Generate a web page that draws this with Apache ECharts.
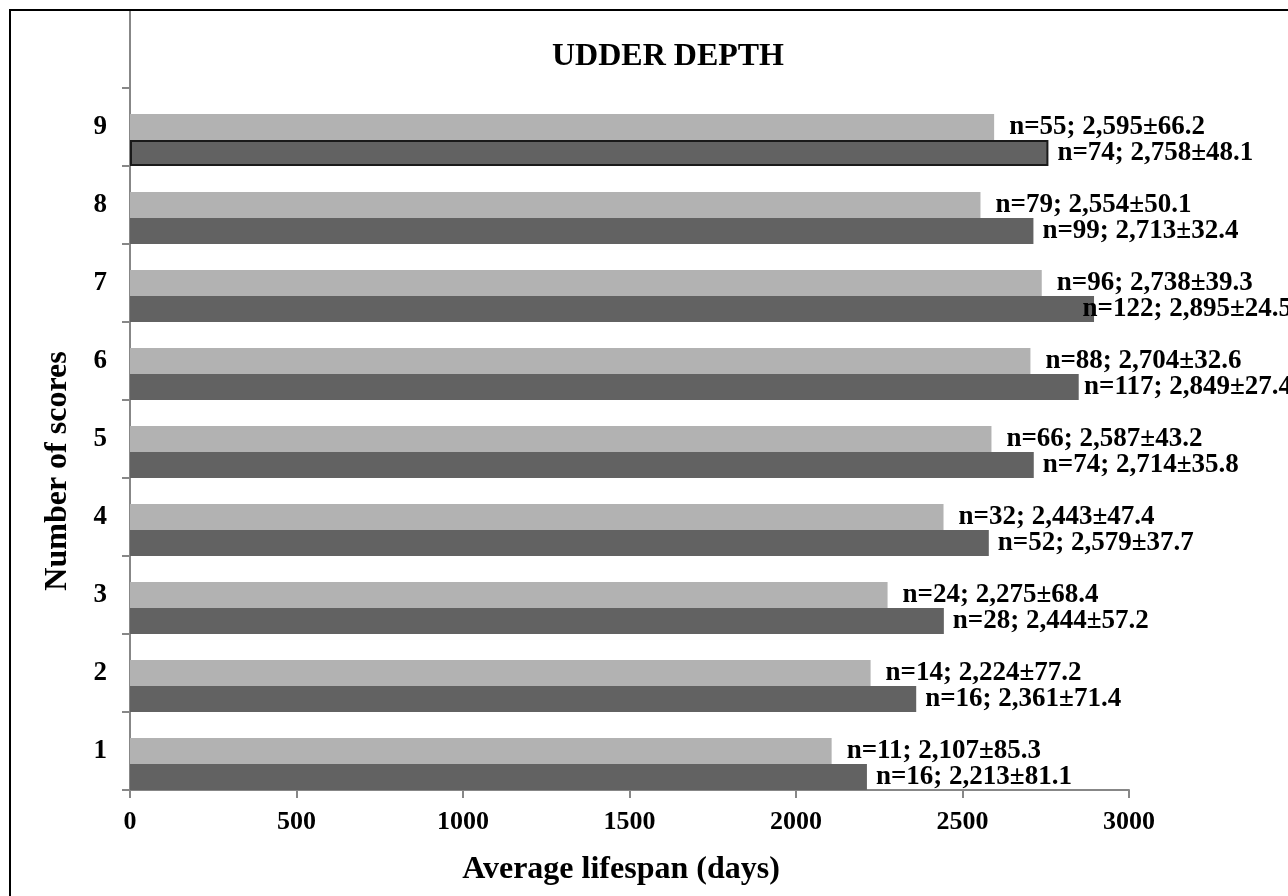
<!DOCTYPE html>
<html>
<head>
<meta charset="utf-8">
<script src="https://cdn.jsdelivr.net/npm/echarts@6/dist/echarts.min.js"></script>
<style>
html,body{margin:0;padding:0;background:#fff;}
#chart{width:1288px;height:896px;}
</style>
</head>
<body>
<div id="chart"></div>
<script>
// ---- data ----
const categories = ['1', '2', '3', '4', '5', '6', '7', '8', '9'];
const lightMean = [2107, 2224, 2275, 2443, 2587, 2704, 2738, 2554, 2595];
const lightN    = [11, 14, 24, 32, 66, 88, 96, 79, 55];
const lightSE   = [85.3, 77.2, 68.4, 47.4, 43.2, 32.6, 39.3, 50.1, 66.2];
const darkMean  = [2213, 2361, 2444, 2579, 2714, 2849, 2895, 2713, 2758];
const darkN     = [16, 16, 28, 52, 74, 117, 122, 99, 74];
const darkSE    = [81.1, 71.4, 57.2, 37.7, 35.8, 27.4, 24.5, 32.4, 48.1];
const xMin = 0, xMax = 3000, xStep = 500;
const titleText = 'UDDER DEPTH';
const xName = 'Average lifespan (days)';
const yName = 'Number of scores';

// ---- chart ----
const FONT = "'Liberation Serif', 'Times New Roman', serif";
const chart = echarts.init(document.getElementById('chart'), null, {renderer: 'canvas'});
const fmt = (nArr, seArr) => p => 'n=' + nArr[p.dataIndex] + '; ' +
  Number(p.value).toLocaleString('en-US') + '\u00b1' + seArr[p.dataIndex].toFixed(1);
const labelStyle = {fontFamily: FONT, fontWeight: 'bold', fontSize: 27, color: '#000'};
const RIGHT_LIMIT = 1292;

const darkData = darkMean.map((v, i) => i === darkMean.length - 1
  ? {value: v, itemStyle: {borderColor: '#1a1a1a', borderWidth: 2}} : v);

chart.setOption({
  animation: false,
  backgroundColor: '#fff',
  title: {
    text: titleText, left: 663, top: 35, textAlign: 'center',
    textStyle: {fontFamily: FONT, fontWeight: 'bold', fontSize: 32, color: '#000', lineHeight: 34}
  },
  grid: {left: 130, right: 159, top: 10, bottom: 106, containLabel: false},
  xAxis: {
    type: 'value', min: xMin, max: xMax, interval: xStep,
    name: xName, nameLocation: 'middle', nameGap: 64,
    nameTextStyle: {fontFamily: FONT, fontWeight: 'bold', fontSize: 32, color: '#000', padding: [0, 17, 0, 0]},
    axisLine: {show: true, lineStyle: {color: '#878787', width: 2}},
    axisTick: {show: true, length: 8, lineStyle: {color: '#878787', width: 2}},
    splitLine: {show: false},
    axisLabel: {margin: 19, fontFamily: FONT, fontWeight: 'bold', fontSize: 26, color: '#000',
                formatter: v => String(v)}
  },
  yAxis: {
    type: 'category', data: categories.concat(['']),
    axisLine: {show: true, lineStyle: {color: '#878787', width: 2}},
    axisTick: {show: true, length: 8, lineStyle: {color: '#878787', width: 2}},
    axisLabel: {margin: 23, fontFamily: FONT, fontWeight: 'bold', fontSize: 27, color: '#000'},
    splitLine: {show: false}
  },
  graphic: [
    {type: 'rect', shape: {x: 10, y: 10, width: 1320, height: 920},
     style: {fill: 'none', stroke: '#000', lineWidth: 2}, silent: true, z: 100},
    {type: 'text', x: 58, y: 471, rotation: Math.PI / 2,
     style: {text: yName, fontFamily: FONT, fontWeight: 'bold', fontSize: 32, fill: '#000',
             align: 'center', verticalAlign: 'middle'}}
  ],
  labelLayout: function (params) {
    const r = params.labelRect;
    if (r && r.x + r.width > RIGHT_LIMIT) {
      return {x: RIGHT_LIMIT - r.width, y: r.y, align: 'left', verticalAlign: 'top'};
    }
  },
  series: [
    {type: 'bar', name: 'spacer', data: [], barGap: '0%', barCategoryGap: '0%', silent: true,
     itemStyle: {color: 'rgba(0,0,0,0)'}},
    {type: 'bar', name: 'light', data: lightMean, barGap: '0%', barCategoryGap: '0%',
     itemStyle: {color: '#b2b2b2'},
     label: Object.assign({show: true, position: 'right', distance: 15, formatter: fmt(lightN, lightSE)}, labelStyle)},
    {type: 'bar', name: 'dark', data: darkData, barGap: '0%', barCategoryGap: '0%',
     itemStyle: {color: '#626262'},
     label: Object.assign({show: true, position: 'right', distance: 9, formatter: fmt(darkN, darkSE)}, labelStyle)}
  ]
});
</script>
</body>
</html>
